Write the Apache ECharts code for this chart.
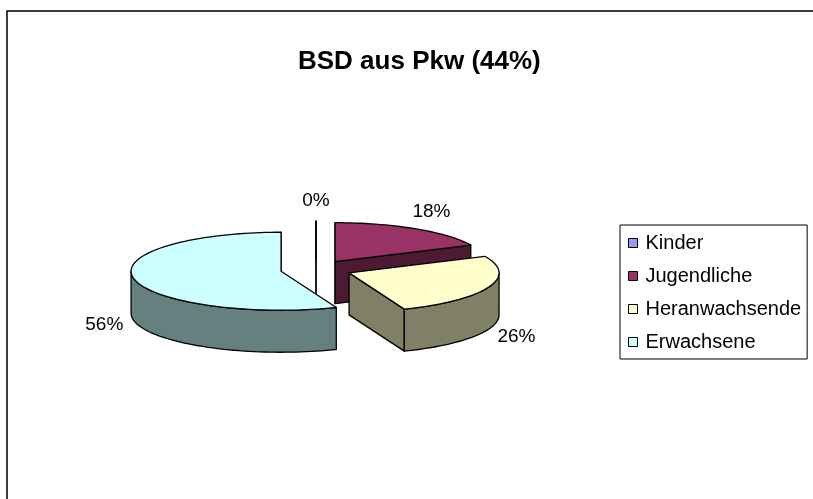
<!DOCTYPE html>
<html><head><meta charset="utf-8">
<script src="https://cdn.jsdelivr.net/npm/echarts@6/dist/echarts.min.js"></script>
<style>html,body{margin:0;padding:0;background:#fff}#c{width:813px;height:499px}</style>
</head><body><div id="c"></div>
<script>
// ---- data ----
const titleText = 'BSD aus Pkw (44%)';
const categories = ['Kinder', 'Jugendliche', 'Heranwachsende', 'Erwachsene'];
const values = [0, 18, 26, 56];
const labelTexts = ['0%', '18%', '26%', '56%'];
const topColors = ['#9999FF', '#993366', '#FFFFCC', '#CCFFFF'];
const sideColors = ['#4D4D80', '#4D1A33', '#808066', '#668080'];

// ---- geometry of the 3D pie (style, not data) ----
const FONT = 'Arial, "Liberation Sans", sans-serif';
const CX = 316, CY = 269.5, RX = 150, RY = 39, DEPTH = 42, EXPLODE = 0.237;
const RAD = Math.PI / 180;

const total = values.reduce((s, v) => s + v, 0);
const starts = [];
values.reduce((acc, v, i) => { starts[i] = acc; return acc + v; }, 0);

function sliceAngles(i) {
  const a = starts[i] / total * 360;
  const b = (starts[i] + values[i]) / total * 360;
  return [a, b, (a + b) / 2];
}
function sliceCenter(i) {
  const m = sliceAngles(i)[2] * RAD;
  return [CX + EXPLODE * RX * Math.sin(m), CY - EXPLODE * RY * Math.cos(m)];
}
function pt(c, deg) {
  const r = deg * RAD;
  return [c[0] + RX * Math.sin(r), c[1] - RY * Math.cos(r)];
}

// painter order: slices further back first
const order = values.map((v, i) => i).sort((p, q) => sliceCenter(p)[1] - sliceCenter(q)[1]);

function makeRender(i) {
  return function (params, api) {
    const [a, b, m] = sliceAngles(i);
    const c = sliceCenter(i);
    const stroke = { stroke: '#000', lineWidth: 1.3, lineJoin: 'round' };
    const children = [];
    const wall = (t) => {
      const p = pt(c, t);
      return { type: 'polygon', shape: { points: [[c[0], c[1]], p, [p[0], p[1] + DEPTH], [c[0], c[1] + DEPTH]] },
        style: Object.assign({ fill: sideColors[i] }, stroke) };
    };
    if (Math.sin(a * RAD) <= 1e-6) children.push(wall(a));
    if (Math.sin(b * RAD) >= -1e-6) children.push(wall(b));
    const lo = Math.max(a, 90), hi = Math.min(b, 270);
    if (hi > lo) {
      const topArc = [], botArc = [];
      const n = Math.max(2, Math.ceil((hi - lo) / 2));
      for (let k = 0; k <= n; k++) {
        const p = pt(c, lo + (hi - lo) * k / n);
        topArc.push(p);
        botArc.push([p[0], p[1] + DEPTH]);
      }
      children.push({ type: 'polygon', shape: { points: topArc.concat(botArc.reverse()) },
        style: Object.assign({ fill: sideColors[i] }, stroke) });
    }
    const topPts = [[c[0], c[1]]];
    const n2 = Math.max(1, Math.ceil((b - a) / 2));
    for (let k = 0; k <= n2; k++) topPts.push(pt(c, a + (b - a) * k / n2));
    children.push({ type: 'polygon', shape: { points: topPts },
      style: Object.assign({ fill: topColors[i] }, stroke) });
    const mr = m * RAD;
    const lx = c[0] + (RX + 30) * Math.sin(mr);
    const ly = c[1] - (RY + 20) * Math.cos(mr) + (Math.cos(mr) < 0 ? DEPTH : 0);
    children.push({ type: 'text', x: lx, y: ly,
      style: { text: labelTexts[i], fill: '#000', font: '19px ' + FONT, align: 'center', verticalAlign: 'middle' } });
    return { type: 'group', children: children };
  };
}

const series = categories.map((name, i) => ({
  type: 'custom',
  name: name,
  coordinateSystem: 'none',
  z: 2 + order.indexOf(i),
  silent: true,
  itemStyle: { color: topColors[i] },
  data: [values[i]],
  renderItem: makeRender(i)
}));

const chart = echarts.init(document.getElementById('c'), null, { renderer: 'canvas' });
chart.setOption({
  animation: false,
  backgroundColor: '#fff',
  title: {
    text: titleText, left: 298, top: 49, padding: 0,
    textStyle: { fontSize: 26, fontWeight: 'bold', fontFamily: FONT, color: '#000' }
  },
  legend: {
    orient: 'vertical', left: 620, top: 225, padding: [8, 6, 7, 8], itemGap: 13,
    itemWidth: 9, itemHeight: 9, icon: 'rect', selectedMode: false,
    borderColor: '#000', borderWidth: 1,
    itemStyle: { borderColor: '#000', borderWidth: 1 },
    textStyle: { fontSize: 20, fontFamily: FONT, color: '#000', lineHeight: 20, padding: [0, 0, 0, 3] },
    data: categories
  },
  graphic: [{
    type: 'rect', shape: { x: 7, y: 11, width: 900, height: 600 },
    style: { fill: 'none', stroke: '#000', lineWidth: 1.5 }, silent: true
  }],
  series: series
});
</script></body></html>
